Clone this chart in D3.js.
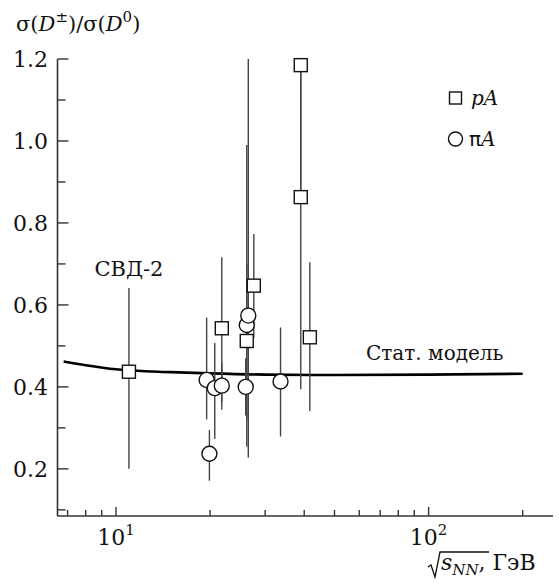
<!DOCTYPE html>
<html>
<head>
<meta charset="utf-8">
<script src="https://cdn.jsdelivr.net/npm/d3@7"></script>
<style>
  html, body { margin: 0; padding: 0; background: #fff; }
  svg { display: block; }
</style>
</head>
<body>
<svg id="chart" width="559" height="584"></svg>
<script>
// Statistical-model curve: sqrt(s_NN) in GeV vs ratio
const modelEnergy = [6.8, 8, 10, 15, 20, 30, 50, 100, 200];
const modelRatio  = [0.462, 0.453, 0.443, 0.436, 0.433, 0.430, 0.429, 0.430, 0.432];

// pA measurements
const pAEnergy = [11, 21.8, 26.2, 27.6, 39, 39, 41.7];
const pARatio  = [0.437, 0.543, 0.512, 0.647, 0.863, 1.185, 0.521];
const pALow    = [0.200, 0.344, 0.320, 0.520, 0.394, 0.863, 0.341];
const pAHigh   = [0.641, 0.716, 0.700, 0.773, 1.185, 1.185, 0.704];

// πA measurements
const piAEnergy = [19.5, 19.9, 20.7, 21.8, 26.0, 26.2, 26.5, 33.6];
const piARatio  = [0.417, 0.237, 0.397, 0.403, 0.400, 0.551, 0.574, 0.413];
const piALow    = [0.321, 0.171, 0.273, 0.364, 0.330, 0.254, 0.228, 0.279];
const piAHigh   = [0.569, 0.295, 0.507, 0.459, 0.470, 0.990, 1.200, 0.545];

// Axis ticks
const yMajorTicks = [0.2, 0.4, 0.6, 0.8, 1.0, 1.2];
const yMinorTicks = [0.1, 0.3, 0.5, 0.7, 0.9, 1.1];
const xMajorTicks = [10, 100];
const xMinorTicks = [7, 8, 9, 20, 30, 40, 50, 60, 70, 80, 90, 200];
const xTickExponents = ["1", "2"];

const FONT = "'DejaVu Serif', 'Liberation Serif', 'Times New Roman', serif";

const svg = d3.select("#chart")
  .attr("font-family", FONT)
  .style("font-family", FONT);

const x = d3.scaleLog().domain([6.5, 250]).range([57.5, 553]);
const y = d3.scaleLinear().domain([0.085, 1.2]).range([516, 59]);

const axisColor = "#333";
const barColor = "#444";
const ink = "#111";

// Axes lines
const axes = svg.append("g");
axes.append("line")
  .attr("x1", x.range()[0]).attr("x2", x.range()[0])
  .attr("y1", y(1.2)).attr("y2", y.range()[0])
  .attr("stroke", axisColor).attr("stroke-width", 1.6);
axes.append("line")
  .attr("x1", x.range()[0]).attr("x2", x.range()[1])
  .attr("y1", y.range()[0]).attr("y2", y.range()[0])
  .attr("stroke", axisColor).attr("stroke-width", 1.6);

// Y ticks (pointing inward)
axes.selectAll(".ymaj").data(yMajorTicks).join("line")
  .attr("x1", x.range()[0]).attr("x2", x.range()[0] + 11)
  .attr("y1", d => y(d)).attr("y2", d => y(d))
  .attr("stroke", axisColor).attr("stroke-width", 1.4);
axes.selectAll(".ymin").data(yMinorTicks.filter(d => d > y.domain()[0])).join("line")
  .attr("x1", x.range()[0]).attr("x2", x.range()[0] + 8)
  .attr("y1", d => y(d)).attr("y2", d => y(d))
  .attr("stroke", axisColor).attr("stroke-width", 1.4);
axes.selectAll(".ylab").data(yMajorTicks).join("text")
  .attr("x", 48).attr("y", d => y(d) + 8)
  .attr("text-anchor", "end")
  .attr("font-size", 22)
  .attr("fill", ink)
  .text(d => d3.format(".1f")(d));

// X ticks (pointing inward)
const y0 = y.range()[0];
axes.selectAll(".xmaj").data(xMajorTicks).join("line")
  .attr("x1", d => x(d)).attr("x2", d => x(d))
  .attr("y1", y0).attr("y2", y0 - 9)
  .attr("stroke", axisColor).attr("stroke-width", 1.4);
axes.selectAll(".xmin").data(xMinorTicks).join("line")
  .attr("x1", d => x(d)).attr("x2", d => x(d))
  .attr("y1", y0).attr("y2", y0 - 6)
  .attr("stroke", axisColor).attr("stroke-width", 1.4);
const xl = axes.selectAll(".xlab").data(xMajorTicks).join("text")
  .attr("x", d => x(d)).attr("y", 545)
  .attr("text-anchor", "middle")
  .attr("font-size", 22)
  .attr("fill", ink);
xl.append("tspan").text("10");
xl.append("tspan").attr("dy", -10).attr("font-size", 15).text((d, i) => xTickExponents[i]);

// Y axis title
const yt = svg.append("text").attr("x", 16).attr("y", 31).attr("font-size", 21).attr("fill", ink);
yt.append("tspan").text("σ(");
yt.append("tspan").attr("font-style", "italic").text("D");
yt.append("tspan").attr("dy", -9).attr("font-size", 15).text("±");
yt.append("tspan").attr("dy", 9).text(")/σ(");
yt.append("tspan").attr("font-style", "italic").text("D");
yt.append("tspan").attr("dy", -9).attr("font-size", 15).text("0");
yt.append("tspan").attr("dy", 9).text(")");

// X axis title with radical sign
const xt = svg.append("g");
xt.append("path")
  .attr("d", "M428,567 L431,565 L435,577 L440,552 L489,552")
  .attr("fill", "none").attr("stroke", ink).attr("stroke-width", 1.3);
const xtt = xt.append("text").attr("x", 441).attr("y", 570).attr("font-size", 22).attr("fill", ink);
xtt.append("tspan").attr("font-style", "italic").text("s");
xtt.append("tspan").attr("font-style", "italic").attr("font-size", 15).attr("dy", 5).text("NN");
xtt.append("tspan").attr("dy", -5).text(", ГэВ");

// Model curve
const line = d3.line().x((d, i) => x(modelEnergy[i])).y(d => y(d)).curve(d3.curveMonotoneX);
svg.append("path")
  .datum(modelRatio)
  .attr("d", line)
  .attr("fill", "none").attr("stroke", "#000").attr("stroke-width", 2.6);

// Error bars
function bars(ex, lo, hi) {
  svg.append("g").selectAll("line").data(ex).join("line")
    .attr("x1", d => x(d)).attr("x2", d => x(d))
    .attr("y1", (d, i) => y(lo[i])).attr("y2", (d, i) => y(hi[i]))
    .attr("stroke", barColor).attr("stroke-width", 1.4);
}
bars(pAEnergy, pALow, pAHigh);
bars(piAEnergy, piALow, piAHigh);

// Markers
svg.append("g").selectAll("circle").data(piAEnergy).join("circle")
  .attr("cx", d => x(d)).attr("cy", (d, i) => y(piARatio[i]))
  .attr("r", 7.5)
  .attr("fill", "#fff").attr("stroke", ink).attr("stroke-width", 1.4);
const sq = 13;
svg.append("g").selectAll("rect").data(pAEnergy).join("rect")
  .attr("x", d => x(d) - sq / 2).attr("y", (d, i) => y(pARatio[i]) - sq / 2)
  .attr("width", sq).attr("height", sq)
  .attr("fill", "#fff").attr("stroke", ink).attr("stroke-width", 1.4);

// Annotations
svg.append("text").attr("x", x(pAEnergy[0])).attr("y", 276)
  .attr("text-anchor", "middle").attr("font-size", 21).attr("fill", ink).text("СВД-2");
svg.append("text").attr("x", 366).attr("y", 360).attr("font-size", 20).attr("fill", ink).text("Стат. модель");

// Legend
const lg = svg.append("g");
lg.append("rect").attr("x", 449.5).attr("y", 92).attr("width", 12).attr("height", 12)
  .attr("fill", "#fff").attr("stroke", ink).attr("stroke-width", 1.4);
lg.append("text").attr("x", 471).attr("y", 105).attr("font-size", 20).attr("fill", ink)
  .attr("font-style", "italic").text("pA");
lg.append("circle").attr("cx", 455.5).attr("cy", 139).attr("r", 7)
  .attr("fill", "#fff").attr("stroke", ink).attr("stroke-width", 1.4);
const pl = lg.append("text").attr("x", 469).attr("y", 146).attr("font-size", 20).attr("fill", ink);
pl.append("tspan").attr("font-family", "'DejaVu Sans', sans-serif").text("π");
pl.append("tspan").attr("font-style", "italic").text("A");
</script>
</body>
</html>
